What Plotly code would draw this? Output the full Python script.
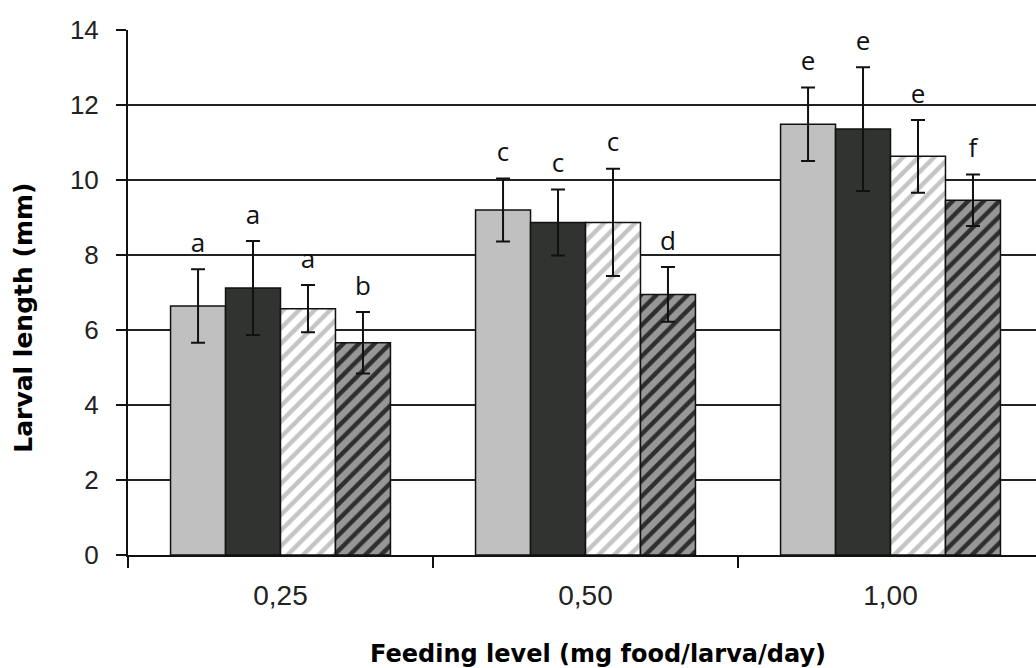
import plotly.graph_objects as go

categories = ["0,25", "0,50", "1,00"]

s1_mean = [6.64, 9.20, 11.49]
s1_err = [0.98, 0.84, 0.98]
s1_letters = ["a", "c", "e"]

s2_mean = [7.12, 8.87, 11.36]
s2_err = [1.25, 0.88, 1.65]
s2_letters = ["a", "c", "e"]

s3_mean = [6.57, 8.87, 10.63]
s3_err = [0.63, 1.43, 0.97]
s3_letters = ["a", "c", "e"]

s4_mean = [5.66, 6.95, 9.46]
s4_err = [0.82, 0.73, 0.69]
s4_letters = ["b", "d", "f"]

y_ticks = [0, 2, 4, 6, 8, 10, 12, 14]

series = [
    dict(name="s1", mean=s1_mean, err=s1_err, letters=s1_letters,
         color="#c0c0c0", pattern=None),
    dict(name="s2", mean=s2_mean, err=s2_err, letters=s2_letters,
         color="#313331", pattern=None),
    dict(name="s3", mean=s3_mean, err=s3_err, letters=s3_letters,
         color="#ffffff", pattern=dict(shape="/", fgcolor="#c4c4c4", bgcolor="#ffffff",
                                       size=11, solidity=0.4, fillmode="replace")),
    dict(name="s4", mean=s4_mean, err=s4_err, letters=s4_letters,
         color="#979797", pattern=dict(shape="/", fgcolor="#2e2e2e", bgcolor="#979797",
                                       size=11, solidity=0.4, fillmode="replace")),
]

fig = go.Figure()
for s in series:
    marker = dict(color=s["color"], line=dict(color="#111111", width=1.5))
    if s["pattern"] is not None:
        marker["pattern"] = s["pattern"]
    fig.add_trace(go.Bar(
        x=categories, y=s["mean"], name=s["name"], offsetgroup=s["name"],
        marker=marker,
        error_y=dict(type="data", array=s["err"], visible=True,
                     color="#111111", thickness=2, width=7),
        showlegend=False, hoverinfo="skip",
    ))

for s in series:
    tops = [m + e for m, e in zip(s["mean"], s["err"])]
    fig.add_trace(go.Scatter(
        x=categories, y=tops, mode="markers+text", text=s["letters"],
        textposition="top center", offsetgroup=s["name"],
        marker=dict(size=16, opacity=0),
        textfont=dict(family="Open Sans", size=26, color="#111111"),
        showlegend=False, hoverinfo="skip", cliponaxis=False,
    ))

fig.update_layout(
    width=1036, height=668,
    margin=dict(l=128, r=0, t=30, b=113),
    plot_bgcolor="white", paper_bgcolor="white",
    barmode="group", bargap=0.279, bargroupgap=0,
    scattermode="group",
    showlegend=False,
)

fig.update_xaxes(
    type="category", range=[-0.5, 2.477],
    showline=True, linecolor="#111111", linewidth=2, mirror=False,
    ticks="outside", tickson="boundaries", ticklen=11, tickwidth=2, tickcolor="#111111",
    tickfont=dict(family="Liberation Sans", size=28, color="#222222"),
    ticklabelstandoff=14,
    showgrid=False,
)

fig.update_yaxes(
    range=[0, 14], tickvals=y_ticks,
    showline=True, linecolor="#111111", linewidth=2,
    ticks="outside", ticklen=10, tickwidth=2, tickcolor="#111111",
    tickfont=dict(family="Liberation Sans", size=26, color="#222222"),
    ticklabelstandoff=12,
    showgrid=True, gridcolor="#222222", gridwidth=2,
    zeroline=False,
)

fig.add_annotation(
    text="Larval length (mm)", xref="paper", yref="paper",
    x=-0.1145, y=0.452, xanchor="center", yanchor="middle",
    textangle=-90, showarrow=False,
    font=dict(family="DejaVu Sans", size=25, color="#000000", weight="bold"),
)
fig.add_annotation(
    text="Feeding level (mg food/larva/day)", xref="paper", yref="paper",
    x=0.518, y=-0.1893, xanchor="center", yanchor="middle",
    showarrow=False,
    font=dict(family="DejaVu Sans", size=24, color="#000000", weight="bold"),
)

fig.write_html("out.html")
